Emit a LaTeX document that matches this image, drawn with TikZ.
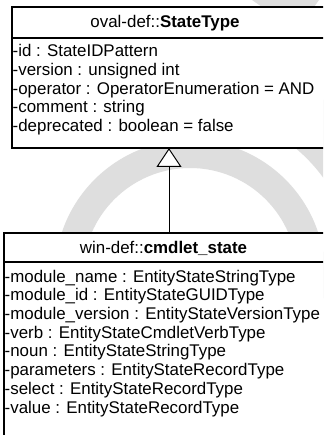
\documentclass[tikz,border=0pt]{standalone}
\usepackage{fontspec}
\setmainfont{Liberation Sans}
\usetikzlibrary{arrows.meta}
\definecolor{wm}{RGB}{222,222,222}
\begin{document}
\begin{tikzpicture}[x=1pt,y=-1pt,
  umlbox/.style={draw=black, line width=1.4pt, fill=white, inner sep=0pt, outer sep=0pt, anchor=north west},
  sep/.style={draw=black, line width=1.4pt},
  attr/.style={anchor=base west, inner sep=0pt, font=\fontsize{16.9}{18.8}\selectfont},
  ttl/.style={anchor=base, inner sep=0pt, font=\fontsize{16.9}{18.8}\selectfont},
  gen/.style={draw=black, line width=1pt, -{Triangle[open, fill=white, width=25pt, length=19pt]}}]
\useasboundingbox (0,0) rectangle (323,435);
\clip (0,0) rectangle (323,435);
\fill[white] (0,0) rectangle (323,435);
% watermark
\begin{scope}[shift={(190,275)}, x=1pt, y=1pt]
  \fill[wm, even odd rule] (0,0) circle[radius=135] (0,0) circle[radius=107];
  \fill[wm] (0:165) arc[start angle=0, end angle=65, radius=165] -- (65:220) arc[start angle=65, end angle=0, radius=220] -- cycle;
\end{scope}
\fill[wm] (252,0) -- (319,0) -- (314,7) -- (262,7) -- cycle;
% top class
\node[umlbox, minimum width=314pt, minimum height=141pt] (top) at (12,7) {};
\draw[sep] ([yshift=-31pt]top.north west) -- ([yshift=-31pt]top.north east);
\node[ttl] (toptitle) at (165,27.3) {oval-def::\textbf{StateType}};
\node[attr] (a1) at (12.5,56.7) {-id : StateIDPattern};
\node[attr] (a2) at (12.5,75.5) {-version : unsigned int};
\node[attr] (a3) at (12.5,94.3) {-operator : OperatorEnumeration = AND};
\node[attr] (a4) at (12.5,113) {-comment : string};
\node[attr] (a5) at (12.5,131.8) {-deprecated : boolean = false};
% bottom class
\node[umlbox, minimum width=330pt, minimum height=220pt] (bot) at (4,233) {};
\draw[sep] ([yshift=-29pt]bot.north west) -- ([yshift=-29pt]bot.north east);
\node[ttl] (bottitle) at (163.5,253) {win-def::\textbf{cmdlet\_state}};
\node[attr] (b1) at (4.5,282) {-module\_name : EntityStateStringType};
\node[attr] (b2) at (4.5,300.7) {-module\_id : EntityStateGUIDType};
\node[attr] (b3) at (4.5,319.4) {-module\_version : EntityStateVersionType};
\node[attr] (b4) at (4.5,338.1) {-verb : EntityStateCmdletVerbType};
\node[attr] (b5) at (4.5,356.8) {-noun : EntityStateStringType};
\node[attr] (b6) at (4.5,375.5) {-parameters : EntityStateRecordType};
\node[attr] (b7) at (4.5,394.2) {-select : EntityStateRecordType};
\node[attr] (b8) at (4.5,413) {-value : EntityStateRecordType};
% generalization
\draw[gen] (bot.north) -- (top.south);
\end{tikzpicture}
\end{document}
